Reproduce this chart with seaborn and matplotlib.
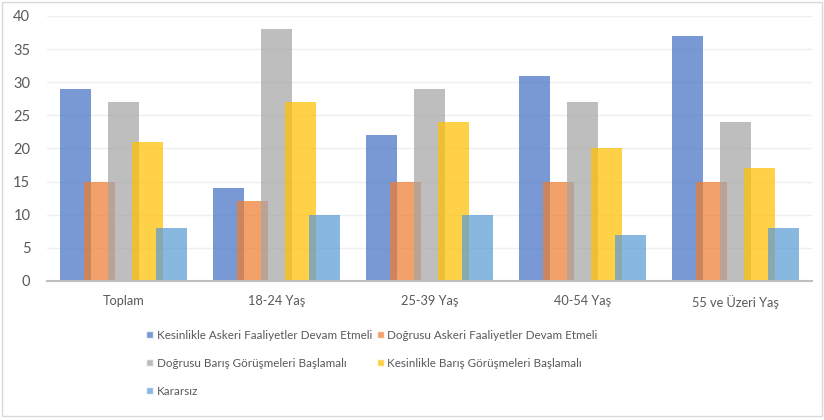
import numpy as np
import pandas as pd
import matplotlib
matplotlib.use("Agg")
import matplotlib.pyplot as plt
import seaborn as sns
from matplotlib.patches import Rectangle

# data
categories = ["Toplam", "18-24 Yaş", "25-39 Yaş", "40-54 Yaş", "55 ve Üzeri Yaş"]
series_names = [
    "Kesinlikle Askeri Faaliyetler Devam Etmeli",
    "Doğrusu Askeri Faaliyetler Devam Etmeli",
    "Doğrusu Barış Görüşmeleri Başlamalı",
    "Kesinlikle Barış Görüşmeleri Başlamalı",
    "Kararsız",
]
kesin_askeri = [29, 14, 22, 31, 37]
dogrusu_askeri = [15, 12, 15, 15, 15]
dogrusu_baris = [27, 38, 29, 27, 24]
kesin_baris = [21, 27, 24, 20, 17]
kararsiz = [8, 10, 10, 7, 8]
colors = ["#4472C4", "#ED7D31", "#A5A5A5", "#FFC000", "#5B9BD5"]

values = [kesin_askeri, dogrusu_askeri, dogrusu_baris, kesin_baris, kararsiz]
rows = []
for name, vals in zip(series_names, values):
    for cat, v in zip(categories, vals):
        rows.append({"cat": cat, "series": name, "val": v})
df = pd.DataFrame(rows)

sns.set_style("white")
plt.rcParams["font.family"] = ["Lato", "DejaVu Sans"]

fig = plt.figure(figsize=(8.24, 4.2), dpi=100)
ax = fig.add_axes([0.057, 0.331, 0.928, 0.631])

step = 0.157
ax = sns.barplot(data=df, x="cat", y="val", hue="series", order=categories,
                 hue_order=series_names, palette=colors, dodge=True,
                 width=step * 5, saturation=1, alpha=0.72, ax=ax, legend=True)

# overlap bars like the excel chart
bar_w = 0.203
for p in ax.patches:
    if p.get_height() > 0:
        c = p.get_x() + p.get_width() / 2
        p.set_width(bar_w)
        p.set_x(c - bar_w / 2)
        p.set_edgecolor("none")

ax.set_ylim(0, 40)
ax.set_xlim(-0.5, 4.5)
ax.set_yticks(range(0, 41, 5))
ax.yaxis.grid(True, color="#EFEFEF", lw=1)
ax.set_axisbelow(True)
ax.set_xlabel("")
ax.set_ylabel("")
for s in ["top", "right", "left"]:
    ax.spines[s].set_visible(False)
ax.spines["bottom"].set_color("#BFBFBF")
ax.spines["bottom"].set_linewidth(1.5)
ax.tick_params(axis="both", length=0, colors="#595959")
ax.tick_params(axis="x", pad=10, labelsize=9.2)
ax.tick_params(axis="y", pad=12, labelsize=10.5)

handles, labels = ax.get_legend_handles_labels()
ax.get_legend().remove()
# legend fills column-first, so reorder to read row by row
order = [0, 2, 4, 1, 3]
leg = fig.legend([handles[i] for i in order], [labels[i] for i in order],
                 loc="upper left", bbox_to_anchor=(0.172, 0.226),
                 ncol=2, frameon=False, fontsize=8.4, handlelength=0.6,
                 handleheight=0.6, handletextpad=0.3, columnspacing=0.4,
                 labelspacing=1.45, borderaxespad=0)
for t in leg.get_texts():
    t.set_color("#595959")

# chart frame
fig.patches.append(Rectangle((0.002, 0.01), 0.996, 0.985, transform=fig.transFigure,
                             fill=False, edgecolor="#D9D9D9", lw=1))

fig.savefig("out.png", dpi=100)
